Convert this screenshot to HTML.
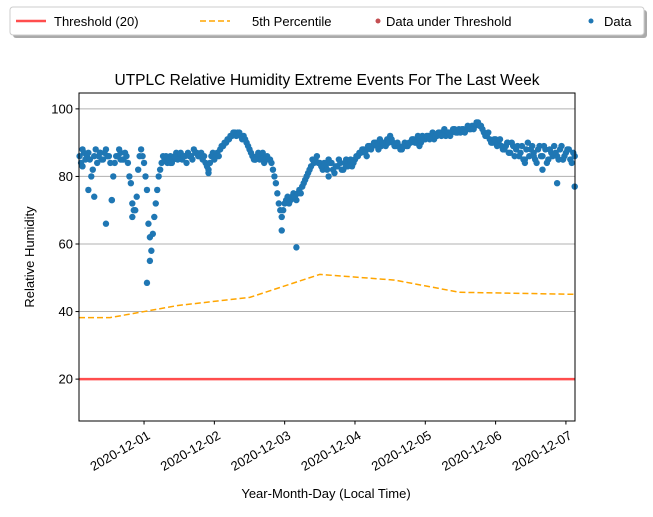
<!DOCTYPE html>
<html><head><meta charset="utf-8"><style>
body{margin:0;background:#fff;}
svg{font-family:"Liberation Sans","DejaVu Sans",sans-serif;}
</style></head><body>
<svg id="chart" width="653" height="512" viewBox="0 0 653 512">
<rect width="653" height="512" fill="#fff"/>
<g id="grid"></g>
<g id="pct"></g>
<g id="thr"></g>
<g id="pts"></g>
<rect x="79" y="93" width="496" height="328" fill="none" stroke="#000" stroke-width="1"/>
<g id="axes" font-size="13" fill="#000"></g>
<text x="327" y="85" text-anchor="middle" font-size="15.5">UTPLC Relative Humidity Extreme Events For The Last Week</text>
<text x="326" y="498" text-anchor="middle" font-size="13">Year-Month-Day (Local Time)</text>
<text transform="translate(34,257) rotate(-90)" text-anchor="middle" font-size="13">Relative Humidity</text>
<g>
<rect x="13" y="10" width="634" height="28" rx="3" fill="#555" opacity="0.5"/>
<rect x="10" y="7" width="634" height="28" rx="3" fill="#fff" stroke="#ccc"/>
<g><line x1="16" y1="21" x2="46" y2="21" stroke="#ff4d4d" stroke-width="2.5"/><text x="54" y="26" font-size="13">Threshold (20)</text></g>
<g><line x1="200" y1="21" x2="230" y2="21" stroke="orange" stroke-width="1.5" stroke-dasharray="6,3"/><text x="252" y="26" font-size="13">5th Percentile</text></g>
<g><circle cx="378" cy="21" r="2.5" fill="#c44e52"/><text x="386" y="26" font-size="13">Data under Threshold</text></g>
<g><circle cx="591" cy="21" r="2.5" fill="#1f77b4"/><text x="604" y="26" font-size="13">Data</text></g>
</g>
</svg>
<script>
// hours since 2020-11-30 00:00
const dataStartHour = 2;
const dataValues = [86,88,85,87,80,86,84,87, 85,88,86,73,84,86,87,85, 86,80,72,70,82,88,84,76,55,63,72,80,84,
85,84,86,85,87,86,85,86,87,86,88,87,86,85,84, 82,86,85,87,88, 89,90,91,92,93,93,92,
92,90,88,86,85,87,86,84,86,85, 82,78,72,68,72,74,73,75,73,76,77,79,81,83,84,86,84,
82,83,85,84,81,83,84,82,85,84,83,85, 86,87,88,88,89,89,90,90,89,90,91,92,90,89,
89,88,90,89,90,91,90,91,92,91, 92,92,91,92,93,93,92,93,93,94,93,93,94,94,94,95,95,96,
95,93,92,91,90,91,90,89,88,90,87,89, 88,86,89,85,90,88,87,84,89,86,88,85,87,89,86,88,85,87,88,84,86];
const halfStartHour = 2.5;
const halfValues = [84,87,86,85,82,88,86,85, 87,86,84,80,86,88,85,87, 84,78,70,74,86,86,80,66,58,68,76,82,86,
86,85,84,86,85,87,86,84,86,85,87,86,87,86,83, 84,87,86,86,89, 90,91,92,93,92,93,91,
91,89,87,85,86,85,87,85,85,84, 80,75,70,70,73,72,74,74,75,75,78,80,82,85,85,84,83,
84,82,84,82,83,85,82,84,83,85,84,86, 87,88,87,89,88,90,89,91,90,89,90,91,89,90,
88,89,89,90,91,90,92,90,91,92, 91,93,92,93,92,94,93,92,94,93,94,94,93,95,94,94,96,95,
94,92,93,90,91,89,91,88,89,87,90,86, 89,87,85,88,86,89,85,88,86,89,84,88,86,87,85,89,86,88,85,87];
const extraHours = [5,7,11,13,25,26,20,46,71,76,165,171,87,100,160,154,3,9,16,33,40,62,93,104,118,128,148,157,167];
const extraValues = [76,74,66,73,48.5,62,68,81,64,59,78,77,80,86,82,84,83,87,85,84,86,85,83,88,89,93,90,86,85];
const pctHours = [0,12.4,24,35.6,60.1,84,109.6,131.7,171.1];
const pctValues = [38.2,38.2,40,41.8,44.2,51,49.3,45.7,45.1];
const threshold = 20;
const yTicks = [20,40,60,80,100];
const xTickHours = [24,48,72,96,120,144,168];
const xTickLabels = ["2020-12-01","2020-12-02","2020-12-03","2020-12-04","2020-12-05","2020-12-06","2020-12-07"];

const NS="http://www.w3.org/2000/svg";
const X0=79,X1=575,H0=1.8,H1=171.1,Y0=421,Y1=93,V0=7.6,V1=104.7;
const xs=h=>X0+(h-H0)/(H1-H0)*(X1-X0);
const ys=v=>Y0-(v-V0)/(V1-V0)*(Y0-Y1);
function mk(tag,attrs,parent){const e=document.createElementNS(NS,tag);for(const k in attrs)e.setAttribute(k,attrs[k]);parent.appendChild(e);return e;}
const grid=document.getElementById('grid'),axes=document.getElementById('axes');
yTicks.forEach(v=>{
  const l=mk('line',{x1:X0,x2:X1,y1:ys(v),y2:ys(v),stroke:'#b0b0b0','stroke-width':1},grid);
  
  
  const t=mk('line',{x1:X0-3.5,x2:X0,y1:ys(v),y2:ys(v),stroke:'#000'},axes);
  
  
  const tx=mk('text',{x:X0-6,y:ys(v)+4.5,'text-anchor':'end'},axes);
  tx.textContent=v;
  
  
});
xTickHours.forEach((h,i)=>{
  const x=xs(h);
  const t=mk('line',{x1:x,x2:x,y1:Y0,y2:Y0+3.5,stroke:'#000'},axes);
  
  
  const tx=mk('text',{transform:`translate(${x+7},${Y0+17}) rotate(-30)`,'text-anchor':'end'},axes);
  tx.textContent=xTickLabels[i];
  
  
});
const pl=mk('polyline',{points:pctHours.map((h,i)=>xs(Math.max(h,H0))+','+ys(pctValues[i])).join(' '),fill:'none',stroke:'orange','stroke-width':1.5,'stroke-dasharray':'6,3'},document.getElementById('pct'));


const tl=mk('line',{x1:X0,x2:X1,y1:ys(threshold),y2:ys(threshold),stroke:'#ff4d4d','stroke-width':2.5},document.getElementById('thr'));


const pts=document.getElementById('pts');
function dot(h,v){
  if(h<H0||h>H1)return;
  const c=mk('circle',{cx:xs(h),cy:ys(v),r:3.2,fill:v<threshold?'#c44e52':'#1f77b4'},pts);
  
  
}
dataValues.forEach((v,i)=>dot(dataStartHour+i,v));
halfValues.forEach((v,i)=>dot(halfStartHour+i,v));
extraHours.forEach((h,i)=>dot(h,extraValues[i]));
</script>
</body></html>
